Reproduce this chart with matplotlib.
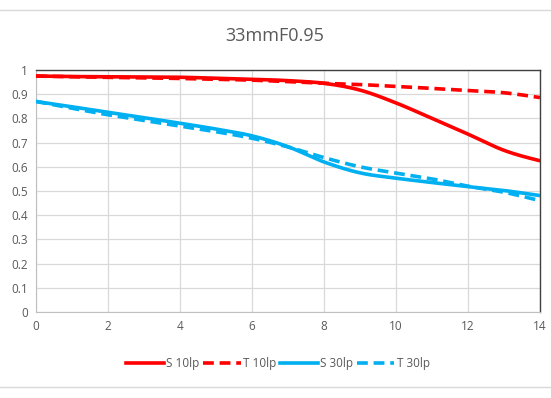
import matplotlib
matplotlib.use("Agg")
import matplotlib.pyplot as plt
import numpy as np
from matplotlib.lines import Line2D

plt.rcParams['font.family'] = ['Open Sans', 'DejaVu Sans']

x = [0, 1, 2, 3, 4, 5, 6, 7, 8, 9, 10, 11, 12, 13, 14]
s10 = [0.975, 0.973, 0.972, 0.971, 0.970, 0.966, 0.962, 0.956, 0.945, 0.917, 0.864, 0.800, 0.735, 0.668, 0.625]
t10 = [0.975, 0.972, 0.970, 0.968, 0.965, 0.962, 0.958, 0.952, 0.945, 0.940, 0.932, 0.924, 0.915, 0.906, 0.886]
s30 = [0.870, 0.848, 0.825, 0.803, 0.780, 0.756, 0.728, 0.683, 0.620, 0.575, 0.553, 0.535, 0.518, 0.502, 0.481]
t30 = [0.870, 0.842, 0.815, 0.792, 0.768, 0.745, 0.718, 0.682, 0.638, 0.600, 0.574, 0.550, 0.520, 0.495, 0.460]
series_names = ['S 10lp', 'T 10lp', 'S 30lp', 'T 30lp']

RED = '#ff0000'
BLUE = '#00b0f0'

fig = plt.figure(figsize=(5.51, 3.98), dpi=100)
W, H = 551, 398
ax = fig.add_axes([36 / W, 1 - 312 / H, (540 - 36) / W, (312 - 70) / H])

def smooth(xs, ys):
    xs = np.asarray(xs, float); ys = np.asarray(ys, float)
    xf = np.linspace(xs[0], xs[-1], 400)
    n = len(xs)
    m = np.zeros(n)
    for i in range(1, n - 1):
        m[i] = (ys[i + 1] - ys[i - 1]) / (xs[i + 1] - xs[i - 1])
    sec0 = (ys[1] - ys[0]) / (xs[1] - xs[0])
    secn = (ys[-1] - ys[-2]) / (xs[-1] - xs[-2])
    m[0] = (3 * sec0 - m[1]) / 2
    m[-1] = (3 * secn - m[-2]) / 2
    out = []
    for xv in xf:
        i = int(np.clip(np.searchsorted(xs, xv, side='right') - 1, 0, n - 2))
        h = xs[i + 1] - xs[i]
        t = (xv - xs[i]) / h
        h00 = 2 * t**3 - 3 * t**2 + 1
        h10 = t**3 - 2 * t**2 + t
        h01 = -2 * t**3 + 3 * t**2
        h11 = t**3 - t**2
        out.append(h00 * ys[i] + h10 * h * m[i] + h01 * ys[i + 1] + h11 * h * m[i + 1])
    return xf, np.array(out)

lw = 2.6
dash = (0, (3, 1.6))
ax.plot(*smooth(x, s10), color=RED, lw=lw, solid_capstyle='round', zorder=3)
ax.plot(*smooth(x, t10), color=RED, lw=lw, ls=dash, zorder=3)
ax.plot(*smooth(x, s30), color=BLUE, lw=lw, solid_capstyle='round', zorder=3)
ax.plot(*smooth(x, t30), color=BLUE, lw=lw, ls=dash, zorder=3)

ax.set_xlim(0, 14)
ax.set_ylim(0, 1)
ax.set_xticks(range(0, 15, 2))
ax.set_yticks(np.arange(0, 1.01, 0.1))
ax.set_yticklabels(['0', '0.1', '0.2', '0.3', '0.4', '0.5', '0.6', '0.7', '0.8', '0.9', '1'])
ax.grid(True, color='#d9d9d9', lw=0.9)
ax.tick_params(length=0, labelsize=8.5, colors='#595959', pad=6)
for k in ['left', 'bottom']:
    ax.spines[k].set_color('#bfbfbf')
for k in ['top', 'right']:
    ax.spines[k].set_color('#404040')
    ax.spines[k].set_linewidth(1.0)

fig.text(275 / W, 1 - 36 / H, '33mmF0.95', ha='center', va='center', fontsize=13, color='#595959')

handles = [
    Line2D([], [], color=RED, lw=lw),
    Line2D([], [], color=RED, lw=lw, ls=dash),
    Line2D([], [], color=BLUE, lw=lw),
    Line2D([], [], color=BLUE, lw=lw, ls=dash),
]
fig.legend(handles, series_names, loc='center', bbox_to_anchor=(278 / W, 1 - 364 / H), ncol=4,
           frameon=False, fontsize=8.5, handlelength=3.2, handletextpad=0.2, columnspacing=0.3,
           labelcolor='#595959')

fig.add_artist(Line2D([0, 1], [1 - 9.5 / H, 1 - 9.5 / H], color='#d9d9d9', lw=1, transform=fig.transFigure))
fig.add_artist(Line2D([0, 1], [1 - 387 / H, 1 - 387 / H], color='#d9d9d9', lw=1, transform=fig.transFigure))

fig.savefig('out.png', dpi=100)
